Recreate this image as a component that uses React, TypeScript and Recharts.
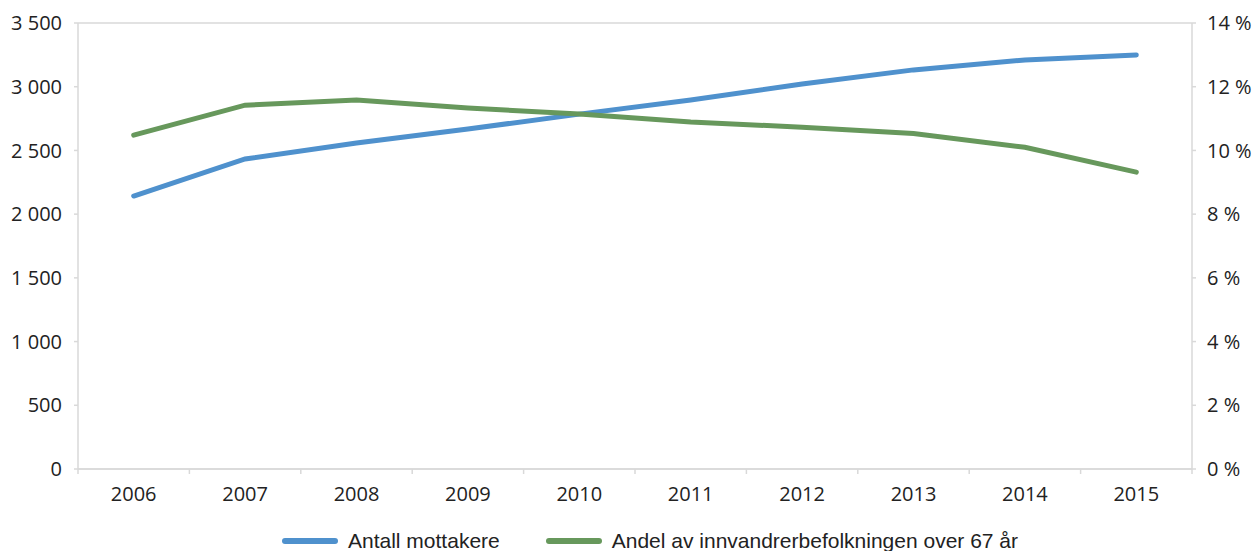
import React from 'react';
import { LineChart, Line, XAxis, YAxis, CartesianGrid, Legend } from 'recharts';

const years = ['2006', '2007', '2008', '2009', '2010', '2011', '2012', '2013', '2014', '2015'];
const antallMottakere = [2142, 2433, 2558, 2668, 2785, 2896, 3021, 3132, 3210, 3249];
const andelProsent = [10.48, 11.42, 11.58, 11.33, 11.14, 10.89, 10.73, 10.53, 10.1, 9.32];
const leftTicks = [0, 500, 1000, 1500, 2000, 2500, 3000, 3500];
const rightTicks = [0, 2, 4, 6, 8, 10, 12, 14];

const seriesNames = ['Antall mottakere', 'Andel av innvandrerbefolkningen over 67 år'];
const BLUE = '#4f91cd';
const GREEN = '#67985c';
const AXIS = '#d9d9d9';
const TEXT = '#222222';
const FONT = '"Open Sans", "Noto Sans", sans-serif';

const data = years.map((y, i) => ({ year: y, antall: antallMottakere[i], andel: andelProsent[i] }));

const fmtThousands = (v: number) => {
  const s = String(Math.round(v));
  return s.replace(/\B(?=(\d{3})+(?!\d))/g, ' ');
};

const XTick = (props: any) => {
  const { x, y, payload, index, width } = props;
  const half = width / years.length / 2;
  const axisY = y - 24;
  return (
    <g>
      <line x1={x - half} x2={x - half} y1={axisY} y2={axisY + 5} stroke={AXIS} strokeWidth={1.5} />
      {index === years.length - 1 && (
        <line x1={x + half} x2={x + half} y1={axisY} y2={axisY + 5} stroke={AXIS} strokeWidth={1.5} />
      )}
      <text x={x} y={y} textAnchor="middle" dominantBaseline="central" fill={TEXT} fontSize={20} fontFamily={FONT}>
        {payload.value}
      </text>
    </g>
  );
};

const LegendContent = () => {
  const colors = [BLUE, GREEN];
  return (
    <div style={{ height: 30, paddingTop: 10, boxSizing: 'border-box', display: 'flex', paddingLeft: 281 }}>
      {seriesNames.map((n, i) => (
        <div key={n} style={{ display: 'flex', alignItems: 'center', marginRight: 45, lineHeight: '24px' }}>
          <svg width={58} height={8} style={{ marginRight: 9 }}>
            <line x1={4} x2={54} y1={4} y2={4} stroke={colors[i]} strokeWidth={6} strokeLinecap="round" />
          </svg>
          <span style={{ fontFamily: '"Liberation Sans", Arial, sans-serif', fontSize: 21, color: TEXT, whiteSpace: 'nowrap' }}>
            {n}
          </span>
        </div>
      ))}
    </div>
  );
};

export default function App() {
  return (
    <div style={{ position: 'absolute', left: 0, top: 0, width: 1256, height: 551, background: '#fff', overflow: 'hidden' }}>
      <LineChart width={1256} height={551} data={data} margin={{ top: 23, right: 0, bottom: 0, left: 0 }}>
        <CartesianGrid vertical={false} stroke={AXIS} strokeWidth={1.5} />
        <XAxis
          dataKey="year"
          scale="band"
          height={52}
          stroke={AXIS}
          strokeWidth={1.5}
          tickLine={false}
          tickSize={0}
          tickMargin={24}
          tick={<XTick />}
          interval={0}
        />
        <YAxis
          yAxisId="left"
          orientation="left"
          width={78}
          domain={[0, 3500]}
          ticks={leftTicks}
          tickFormatter={fmtThousands}
          stroke={AXIS}
          strokeWidth={1.5}
          tickSize={4}
          tickMargin={12}
          tick={{ fill: TEXT, fontSize: 20, fontFamily: FONT }}
          interval={0}
        />
        <YAxis
          yAxisId="right"
          orientation="right"
          width={64}
          domain={[0, 14]}
          ticks={rightTicks}
          tickFormatter={(v: number) => `${v} %`}
          stroke={AXIS}
          strokeWidth={1.5}
          tickSize={4}
          tickMargin={11}
          tick={{ fill: TEXT, fontSize: 20, fontFamily: FONT, textAnchor: 'start' }}
          interval={0}
        />
        <Legend verticalAlign="bottom" content={<LegendContent />} />
        <Line
          yAxisId="left"
          type="linear"
          dataKey="antall"
          name={seriesNames[0]}
          stroke={BLUE}
          strokeWidth={5}
          strokeLinecap="round"
          dot={false}
          isAnimationActive={false}
        />
        <Line
          yAxisId="right"
          type="linear"
          dataKey="andel"
          name={seriesNames[1]}
          stroke={GREEN}
          strokeWidth={5}
          strokeLinecap="round"
          dot={false}
          isAnimationActive={false}
        />
      </LineChart>
    </div>
  );
}
